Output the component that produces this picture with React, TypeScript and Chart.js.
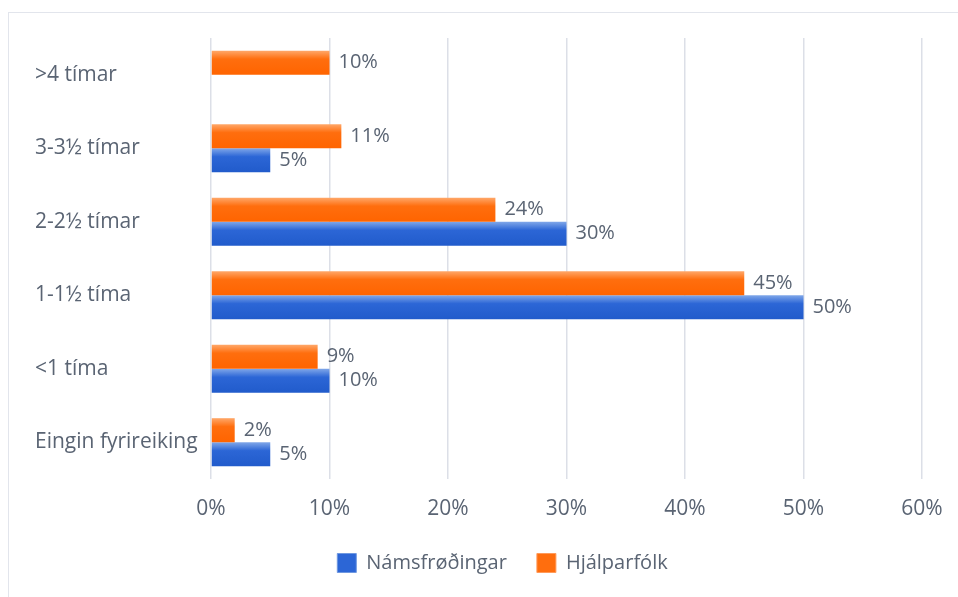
import React, { useEffect, useRef } from 'react';
import { Chart, registerables } from 'chart.js';

Chart.register(...registerables);

const categories = ['>4 tímar', '3-3½ tímar', '2-2½ tímar', '1-1½ tíma', '<1 tíma', 'Eingin fyrireiking'];
const seriesNames = ['Námsfrøðingar', 'Hjálparfólk'];
const namsfrodingar: (number | null)[] = [null, 5, 30, 50, 10, 5];
const hjalparfolk: (number | null)[] = [10, 11, 24, 45, 9, 2];
const xTickValues = [0, 10, 20, 30, 40, 50, 60];

const TEXT = '#5a6473';
const FONT = "'Open Sans', 'Noto Sans', sans-serif";
const BLUE = ['#80a7e9', '#2c66d6', '#215bcb'];
const ORANGE = ['#ffa86a', '#ff6e0e', '#ff6400'];
const CAT_PCT = 0.655;
const LEGEND_SHIFT = 24;

function gradFill(colors: string[], datasetIdx: number) {
  return (ctx: any) => {
    const chart = ctx.chart;
    const y = chart.scales && chart.scales.y;
    if (!y || ctx.dataIndex === undefined || !chart.ctx) return colors[1];
    const center = y.getPixelForValue(ctx.dataIndex);
    const band = Math.abs(y.getPixelForValue(1) - y.getPixelForValue(0));
    const thick = (band * CAT_PCT) / 2;
    const top = datasetIdx === 0 ? center - thick : center;
    const g = chart.ctx.createLinearGradient(0, top, 0, top + thick);
    g.addColorStop(0, colors[0]);
    g.addColorStop(0.35, colors[1]);
    g.addColorStop(1, colors[2]);
    return g;
  };
}

const valueLabels = {
  id: 'valueLabels',
  afterDatasetsDraw(chart: any) {
    const c = chart.ctx;
    c.save();
    c.font = `20px ${FONT}`;
    c.fillStyle = TEXT;
    c.textAlign = 'left';
    c.textBaseline = 'middle';
    chart.data.datasets.forEach((ds: any, di: number) => {
      const meta = chart.getDatasetMeta(di);
      meta.data.forEach((el: any, i: number) => {
        const v = ds.data[i];
        if (v === null || v === undefined) return;
        c.fillText(`${v}%`, el.x + 9, el.y);
      });
    });
    c.restore();
  },
};

const legendShift = {
  id: 'legendShift',
  afterLayout(chart: any) {
    const l = chart.legend;
    if (l) {
      l.left += LEGEND_SHIFT;
      l.right += LEGEND_SHIFT;
    }
  },
};

export default function App() {
  const ref = useRef<HTMLCanvasElement | null>(null);
  useEffect(() => {
    if (!ref.current) return;
    const chart = new Chart(ref.current, {
      type: 'bar',
      data: {
        labels: categories,
        datasets: [
          {
            label: seriesNames[1],
            data: hjalparfolk,
            backgroundColor: gradFill(ORANGE, 0),
            categoryPercentage: CAT_PCT,
            barPercentage: 1,
          },
          {
            label: seriesNames[0],
            data: namsfrodingar,
            backgroundColor: gradFill(BLUE, 1),
            categoryPercentage: CAT_PCT,
            barPercentage: 1,
          },
        ],
      },
      options: {
        indexAxis: 'y',
        animation: false,
        responsive: false,
        maintainAspectRatio: false,
        layout: { padding: { left: 35, right: 130, top: 38, bottom: 14 } },
        scales: {
          x: {
            min: 0,
            max: 60,
            afterBuildTicks: (s: any) => {
              s.ticks = xTickValues.map((v) => ({ value: v }));
            },
            afterFit: (s: any) => {
              s.height = 44;
            },
            ticks: {
              callback: (v: any) => `${v}%`,
              font: { size: 21, family: FONT },
              color: TEXT,
              padding: 17,
            },
            grid: { color: '#dcdfe7', drawTicks: false, lineWidth: 1.5 },
            border: { display: false },
          },
          y: {
            afterFit: (s: any) => {
              s.width = 176;
            },
            ticks: {
              crossAlign: 'far',
              font: { size: 21, family: FONT },
              color: TEXT,
            },
            grid: { display: false, drawTicks: false },
            border: { display: false },
          },
        },
        plugins: {
          tooltip: { enabled: false },
          legend: {
            position: 'bottom',
            labels: {
              boxWidth: 19,
              boxHeight: 19,
              padding: 30,
              color: TEXT,
              font: { size: 20, family: FONT },
              generateLabels: () => [
                { text: seriesNames[0], fillStyle: BLUE[1], strokeStyle: '#6f98e0', lineWidth: 1, datasetIndex: 1, fontColor: TEXT },
                { text: seriesNames[1], fillStyle: ORANGE[1], strokeStyle: '#ff9a5a', lineWidth: 1, datasetIndex: 0, fontColor: TEXT },
              ],
            },
          },
        },
      },
      plugins: [valueLabels, legendShift],
    });
    return () => chart.destroy();
  }, []);

  return (
    <div style={{ position: 'fixed', inset: 0, overflow: 'hidden', background: '#fff' }}>
      <div
        style={{
          position: 'absolute',
          left: 8,
          top: 12,
          width: 1000,
          height: 640,
          border: '1px solid #e2e5ec',
        }}
      />
      <canvas
        ref={ref}
        width={1052}
        height={597}
        style={{ position: 'absolute', left: 0, top: 0, width: 1052, height: 597 }}
      />
    </div>
  );
}
